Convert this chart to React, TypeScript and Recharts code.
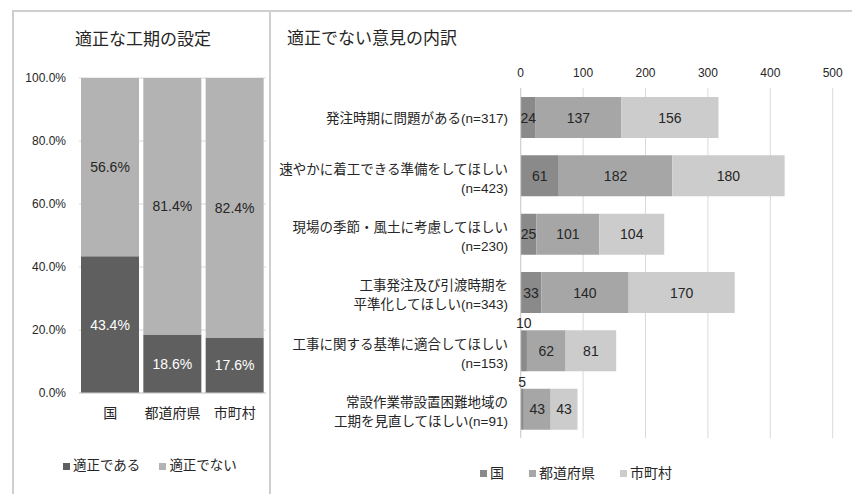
import React from 'react';
import { BarChart, Bar, XAxis, YAxis, CartesianGrid, LabelList, Legend } from 'recharts';

const FONT = "'Liberation Sans', 'Noto Sans CJK JP', sans-serif";
const TEXT = '#262626';

// Left chart data
const leftCategories = ['国', '都道府県', '市町村'];
const leftAppropriate = [43.4, 18.6, 17.6];
const leftInappropriate = [56.6, 81.4, 82.4];
const leftTicks = [0, 20, 40, 60, 80, 100];

// Right chart data
const rightCategoryLines: string[][] = [
  ['発注時期に問題がある(n=317)'],
  ['速やかに着工できる準備をしてほしい', '(n=423)'],
  ['現場の季節・風土に考慮してほしい', '(n=230)'],
  ['工事発注及び引渡時期を', '平準化してほしい(n=343)'],
  ['工事に関する基準に適合してほしい', '(n=153)'],
  ['常設作業帯設置困難地域の', '工期を見直してほしい(n=91)'],
];
const rightKuni = [24, 61, 25, 33, 10, 5];
const rightPref = [137, 182, 101, 140, 62, 43];
const rightCity = [156, 180, 104, 170, 81, 43];
const rightTicks = [0, 100, 200, 300, 400, 500];

const leftData = leftCategories.map((name, i) => ({
  name,
  ok: leftAppropriate[i],
  ng: leftInappropriate[i],
}));

const rightData = rightCategoryLines.map((lines, i) => ({
  name: lines.join('\n'),
  kuni: rightKuni[i],
  pref: rightPref[i],
  city: rightCity[i],
}));

const LegendRow = ({ items, gap, fontSize }: { items: { label: string; color: string }[]; gap: number; fontSize: number }) => (
  <div style={{ display: 'flex', alignItems: 'center', fontFamily: FONT, fontSize, lineHeight: '16px', color: TEXT, whiteSpace: 'nowrap' }}>
    {items.map((it, i) => (
      <div key={i} style={{ display: 'flex', alignItems: 'center', marginLeft: i ? gap : 0 }}>
        <span style={{ width: 7, height: 7, background: it.color, display: 'inline-block', marginRight: 3 }} />
        <span>{it.label}</span>
      </div>
    ))}
  </div>
);

const CategoryTick = (props: any) => {
  const { x, y, payload } = props;
  const lines: string[] = String(payload.value).split('\n');
  const offsets = lines.length === 1 ? [6] : [-2, 17];
  return (
    <g>
      {lines.map((ln, i) => (
        <text key={i} x={x} y={y + offsets[i]} textAnchor="end" fontFamily={FONT} fontSize={13.5} fill={TEXT}>
          {ln}
        </text>
      ))}
    </g>
  );
};

const rightLabel = (props: any) => {
  const { x, y, width, height, value } = props;
  if (value < 15) {
    return (
      <text x={x + width / 2} y={y - 7} textAnchor="middle" dominantBaseline="central" fontFamily={FONT} fontSize={14} fill={TEXT}>
        {value}
      </text>
    );
  }
  return (
    <text x={x + width / 2} y={y + height / 2} textAnchor="middle" dominantBaseline="central" fontFamily={FONT} fontSize={14} fill={TEXT}>
      {value}
    </text>
  );
};

const makeLeftLabel = (fill: string) => (props: any) => {
  const { x, y, width, height, value } = props;
  return (
    <text x={x + width / 2} y={y + height / 2} textAnchor="middle" dominantBaseline="central" fontFamily={FONT} fontSize={14} fill={fill}>
      {Number(value).toFixed(1)}%
    </text>
  );
};

export default function App() {
  return (
    <div style={{ position: 'absolute', left: 0, top: 0, width: 852, height: 494, background: '#fff', fontFamily: FONT, overflow: 'hidden' }}>
      {/* frame */}
      <div style={{ position: 'absolute', left: 12, top: 10, width: 900, height: 520, borderTop: '2px solid #cfcfcf', borderLeft: '2px solid #cfcfcf' }} />
      <div style={{ position: 'absolute', left: 269, top: 10, width: 0, height: 520, borderLeft: '2px solid #cfcfcf' }} />

      {/* titles */}
      <div style={{ position: 'absolute', left: 12, top: 30, width: 262, textAlign: 'center', fontSize: 17, lineHeight: '20px', color: TEXT }}>
        適正な工期の設定
      </div>
      <div style={{ position: 'absolute', left: 287, top: 29, fontSize: 17, lineHeight: '20px', color: TEXT }}>
        適正でない意見の内訳
      </div>

      {/* left chart */}
      <div style={{ position: 'absolute', left: 0, top: 0 }}>
        <BarChart width={270} height={494} data={leftData} margin={{ top: 78, right: 4, bottom: 71, left: 0 }}>
          <CartesianGrid vertical={false} stroke="#d9d9d9" />
          <XAxis
            dataKey="name"
            height={30}
            tickLine={false}
            axisLine={{ stroke: '#d0d0d0' }}
            tickSize={0}
            tickMargin={15}
            tick={{ fontSize: 14, fill: TEXT, fontFamily: FONT }}
          />
          <YAxis
            type="number"
            domain={[0, 100]}
            ticks={leftTicks}
            width={79}
            tickLine={false}
            axisLine={false}
            tickSize={0}
            tickMargin={13}
            tickFormatter={(v: number) => `${v.toFixed(1)}%`}
            tick={{ fontSize: 12, fill: TEXT, fontFamily: FONT }}
          />
          <Bar dataKey="ok" stackId="a" fill="#5f5f5f" barSize={58} isAnimationActive={false}>
            <LabelList dataKey="ok" content={makeLeftLabel('#ffffff')} />
          </Bar>
          <Bar dataKey="ng" stackId="a" fill="#b3b3b3" barSize={58} isAnimationActive={false}>
            <LabelList dataKey="ng" content={makeLeftLabel(TEXT)} />
          </Bar>
          <Legend
            verticalAlign="middle"
            align="center"
            layout="horizontal"
            wrapperStyle={{ left: 63, top: 458, width: 'auto', height: 'auto' }}
            content={() => (
              <LegendRow
                fontSize={13.5}
                gap={19}
                items={[
                  { label: '適正である', color: '#5f5f5f' },
                  { label: '適正でない', color: '#b3b3b3' },
                ]}
              />
            )}
          />
        </BarChart>
      </div>

      {/* right chart */}
      <div style={{ position: 'absolute', left: 270, top: 0 }}>
        <BarChart width={582} height={494} data={rightData} layout="vertical" margin={{ top: 58, right: 19.3, bottom: 56, left: 0 }}>
          <CartesianGrid horizontal={false} stroke="#d9d9d9" />
          <XAxis
            type="number"
            orientation="top"
            domain={[0, 500]}
            ticks={rightTicks}
            height={30}
            tickLine={false}
            axisLine={false}
            tickSize={0}
            tickMargin={11}
            tick={{ fontSize: 12, fill: TEXT, fontFamily: FONT }}
          />
          <YAxis
            type="category"
            dataKey="name"
            width={250.7}
            tickLine={false}
            axisLine={{ stroke: '#d0d0d0' }}
            tickSize={0}
            tickMargin={12.7}
            tick={<CategoryTick />}
            interval={0}
          />
          <Bar dataKey="kuni" stackId="b" fill="#8a8a8a" barSize={41} isAnimationActive={false}>
            <LabelList dataKey="kuni" content={rightLabel} />
          </Bar>
          <Bar dataKey="pref" stackId="b" fill="#a6a6a6" barSize={41} isAnimationActive={false}>
            <LabelList dataKey="pref" content={rightLabel} />
          </Bar>
          <Bar dataKey="city" stackId="b" fill="#cccccc" barSize={41} isAnimationActive={false}>
            <LabelList dataKey="city" content={rightLabel} />
          </Bar>
          <Legend
            verticalAlign="middle"
            align="center"
            layout="horizontal"
            wrapperStyle={{ left: 210, top: 465, width: 'auto', height: 'auto' }}
            content={() => (
              <LegendRow
                fontSize={14}
                gap={25}
                items={[
                  { label: '国', color: '#8a8a8a' },
                  { label: '都道府県', color: '#a6a6a6' },
                  { label: '市町村', color: '#cccccc' },
                ]}
              />
            )}
          />
        </BarChart>
      </div>
    </div>
  );
}
